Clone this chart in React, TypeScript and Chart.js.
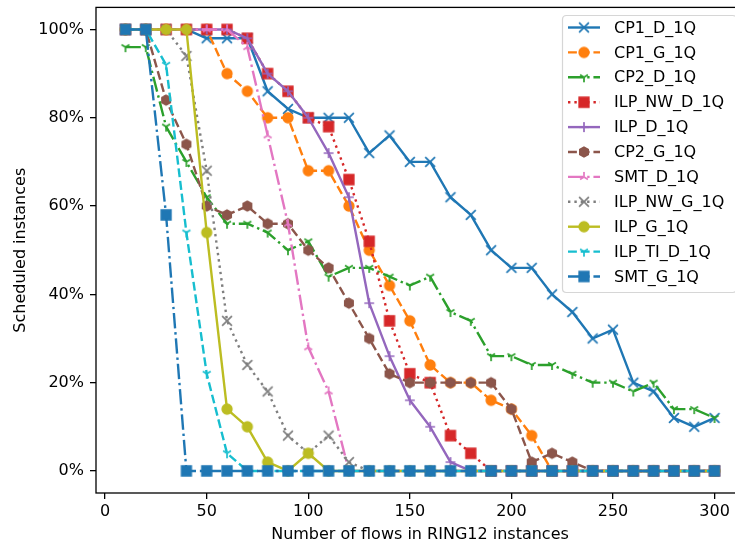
import { useEffect, useRef } from 'react';
import { Chart, registerables } from 'chart.js';
Chart.register(...registerables);

const flows = [10, 20, 30, 40, 50, 60, 70, 80, 90, 100, 110, 120, 130, 140, 150, 160, 170, 180, 190, 200, 210, 220, 230, 240, 250, 260, 270, 280, 290, 300];

const CP1_D_1Q = [100, 100, 100, 100, 98, 98, 98, 86, 82, 80, 80, 80, 72, 76, 70, 70, 62, 58, 50, 46, 46, 40, 36, 30, 32, 20, 18, 12, 10, 12];
const CP1_G_1Q = [100, 100, 100, 100, 100, 90, 86, 80, 80, 68, 68, 60, 50, 42, 34, 24, 20, 20, 16, 14, 8, 0, 0, 0, 0, 0, 0, 0, 0, 0];
const CP2_D_1Q = [96, 96, 78, 70, 62, 56, 56, 54, 50, 52, 44, 46, 46, 44, 42, 44, 36, 34, 26, 26, 24, 24, 22, 20, 20, 18, 20, 14, 14, 12];
const ILP_NW_D_1Q = [100, 100, 100, 100, 100, 100, 98, 90, 86, 80, 78, 66, 52, 34, 22, 20, 8, 4, 0, 0, 0, 0, 0, 0, 0, 0, 0, 0, 0, 0];
const ILP_D_1Q = [100, 100, 100, 100, 100, 100, 98, 90, 86, 80, 72, 62, 38, 26, 16, 10, 2, 0, 0, 0, 0, 0, 0, 0, 0, 0, 0, 0, 0, 0];
const CP2_G_1Q = [100, 100, 84, 74, 60, 58, 60, 56, 56, 50, 46, 38, 30, 22, 20, 20, 20, 20, 20, 14, 2, 4, 2, 0, 0, 0, 0, 0, 0, 0];
const SMT_D_1Q = [100, 100, 100, 100, 100, 100, 96, 76, 56, 28, 18, 0, 0, 0, 0, 0, 0, 0, 0, 0, 0, 0, 0, 0, 0, 0, 0, 0, 0, 0];
const ILP_NW_G_1Q = [100, 100, 100, 94, 68, 34, 24, 18, 8, 4, 8, 2, 0, 0, 0, 0, 0, 0, 0, 0, 0, 0, 0, 0, 0, 0, 0, 0, 0, 0];
const ILP_G_1Q = [100, 100, 100, 100, 54, 14, 10, 2, 0, 4, 0, 0, 0, 0, 0, 0, 0, 0, 0, 0, 0, 0, 0, 0, 0, 0, 0, 0, 0, 0];
const ILP_TI_D_1Q = [100, 100, 92, 54, 22, 4, 0, 0, 0, 0, 0, 0, 0, 0, 0, 0, 0, 0, 0, 0, 0, 0, 0, 0, 0, 0, 0, 0, 0, 0];
const SMT_G_1Q = [100, 100, 58, 0, 0, 0, 0, 0, 0, 0, 0, 0, 0, 0, 0, 0, 0, 0, 0, 0, 0, 0, 0, 0, 0, 0, 0, 0, 0, 0];

const xTicks = [0, 50, 100, 150, 200, 250, 300];
const yTicks = [0, 20, 40, 60, 80, 100];

const xTitle = 'Number of flows in RING12 instances';
const yTitle = 'Scheduled instances';

const FONT = 'DejaVu Sans';
const LW = 2.4;
const DASHED = [3.7 * LW, 1.6 * LW];
const DOTTED = [1 * LW, 1.65 * LW];
const DASHDOT = [6.4 * LW, 1.6 * LW, 1 * LW, 1.6 * LW];
const SOLID: number[] = [];

function makeMarker(kind: string, color: string): HTMLCanvasElement {
  const S = 16;
  const c = document.createElement('canvas');
  c.width = S;
  c.height = S;
  const ctx = c.getContext('2d')!;
  ctx.translate(S / 2, S / 2);
  const r = 4.9;
  ctx.strokeStyle = color;
  ctx.fillStyle = color;
  ctx.lineWidth = 1.7;
  ctx.lineCap = 'butt';
  ctx.lineJoin = 'miter';
  const seg = (pts: number[][]) => {
    ctx.beginPath();
    for (const p of pts) {
      ctx.moveTo(0, 0);
      ctx.lineTo(p[0], p[1]);
    }
    ctx.stroke();
  };
  if (kind === 'x') {
    ctx.beginPath();
    ctx.moveTo(-r, -r); ctx.lineTo(r, r);
    ctx.moveTo(-r, r); ctx.lineTo(r, -r);
    ctx.stroke();
  } else if (kind === '+') {
    ctx.beginPath();
    ctx.moveTo(-r, 0); ctx.lineTo(r, 0);
    ctx.moveTo(0, -r); ctx.lineTo(0, r);
    ctx.stroke();
  } else if (kind === 'o') {
    ctx.beginPath();
    ctx.arc(0, 0, r, 0, Math.PI * 2);
    ctx.fill();
    ctx.lineWidth = 1.5;
    ctx.stroke();
  } else if (kind === 's') {
    ctx.beginPath();
    ctx.rect(-r, -r, 2 * r, 2 * r);
    ctx.fill();
    ctx.lineWidth = 1.5;
    ctx.stroke();
  } else if (kind === 'h') {
    ctx.beginPath();
    for (let i = 0; i < 6; i++) {
      const a = -Math.PI / 2 + (i * Math.PI) / 3;
      const px = r * Math.cos(a);
      const py = r * Math.sin(a);
      if (i === 0) ctx.moveTo(px, py); else ctx.lineTo(px, py);
    }
    ctx.closePath();
    ctx.fill();
    ctx.lineWidth = 1.5;
    ctx.stroke();
  } else if (kind === '1') {
    seg([[0, r], [-0.8 * r, -0.5 * r], [0.8 * r, -0.5 * r]]);
  } else if (kind === '2') {
    seg([[0, -r], [-0.8 * r, 0.5 * r], [0.8 * r, 0.5 * r]]);
  }
  return c;
}

const seriesDefs = [
  { label: 'CP1_D_1Q', values: CP1_D_1Q, color: '#1f77b4', dash: SOLID, marker: 'x' },
  { label: 'CP1_G_1Q', values: CP1_G_1Q, color: '#ff7f0e', dash: DASHED, marker: 'o' },
  { label: 'CP2_D_1Q', values: CP2_D_1Q, color: '#2ca02c', dash: DASHDOT, marker: '1' },
  { label: 'ILP_NW_D_1Q', values: ILP_NW_D_1Q, color: '#d62728', dash: DOTTED, marker: 's' },
  { label: 'ILP_D_1Q', values: ILP_D_1Q, color: '#9467bd', dash: SOLID, marker: '+' },
  { label: 'CP2_G_1Q', values: CP2_G_1Q, color: '#8c564b', dash: DASHED, marker: 'h' },
  { label: 'SMT_D_1Q', values: SMT_D_1Q, color: '#e377c2', dash: DASHDOT, marker: '2' },
  { label: 'ILP_NW_G_1Q', values: ILP_NW_G_1Q, color: '#7f7f7f', dash: DOTTED, marker: 'x' },
  { label: 'ILP_G_1Q', values: ILP_G_1Q, color: '#bcbd22', dash: SOLID, marker: 'o' },
  { label: 'ILP_TI_D_1Q', values: ILP_TI_D_1Q, color: '#17becf', dash: DASHED, marker: '1' },
  { label: 'SMT_G_1Q', values: SMT_G_1Q, color: '#1f77b4', dash: DASHDOT, marker: 's' },
];

export default function App() {
  const ref = useRef<HTMLCanvasElement | null>(null);

  useEffect(() => {
    const canvas = ref.current;
    if (!canvas) return;
    const markers = seriesDefs.map((s) => makeMarker(s.marker, s.color));
    const n = seriesDefs.length;

    const datasets = seriesDefs.map((s, i) => ({
      label: s.label,
      data: flows.map((x, j) => ({ x, y: s.values[j] })),
      borderColor: s.color,
      backgroundColor: s.color,
      borderWidth: LW,
      borderDash: s.dash,
      borderCapStyle: 'butt' as const,
      borderJoinStyle: 'round' as const,
      tension: 0,
      pointStyle: markers[i] as any,
      pointRadius: 5,
      pointHoverRadius: 5,
      order: n - i,
      fill: false,
    }));

    const framePlugin = {
      id: 'frame',
      afterDatasetsDraw(chart: any) {
        const { ctx, chartArea } = chart;
        ctx.save();
        ctx.strokeStyle = '#000';
        ctx.lineWidth = 1.3;
        ctx.setLineDash([]);
        ctx.strokeRect(chartArea.left, chartArea.top, chartArea.right - chartArea.left, chartArea.bottom - chartArea.top);
        ctx.restore();
      },
    };

    const legendPlugin = {
      id: 'mplLegend',
      afterDraw(chart: any) {
        const { ctx } = chart;
        const bx = 562.5, by = 15.5, bw = 174, bh = 277, rad = 4;
        ctx.save();
        ctx.beginPath();
        ctx.moveTo(bx + rad, by);
        ctx.lineTo(bx + bw - rad, by);
        ctx.quadraticCurveTo(bx + bw, by, bx + bw, by + rad);
        ctx.lineTo(bx + bw, by + bh - rad);
        ctx.quadraticCurveTo(bx + bw, by + bh, bx + bw - rad, by + bh);
        ctx.lineTo(bx + rad, by + bh);
        ctx.quadraticCurveTo(bx, by + bh, bx, by + bh - rad);
        ctx.lineTo(bx, by + rad);
        ctx.quadraticCurveTo(bx, by, bx + rad, by);
        ctx.closePath();
        ctx.fillStyle = 'rgba(255,255,255,0.8)';
        ctx.fill();
        ctx.strokeStyle = 'rgba(204,204,204,0.8)';
        ctx.lineWidth = 1.2;
        ctx.stroke();

        const x0 = 568;
        const hl = 32;
        seriesDefs.forEach((s, i) => {
          const y = 27.5 + i * 24.9;
          ctx.beginPath();
          ctx.setLineDash(s.dash);
          ctx.lineDashOffset = 0;
          ctx.lineCap = 'butt';
          ctx.strokeStyle = s.color;
          ctx.lineWidth = LW;
          ctx.moveTo(x0, y);
          ctx.lineTo(x0 + hl, y);
          ctx.stroke();
          ctx.setLineDash([]);
          const m = markers[i];
          ctx.drawImage(m, x0 + hl / 2 - m.width / 2, y - m.height / 2);
          ctx.fillStyle = '#000';
          ctx.font = `16px "${FONT}"`;
          ctx.textBaseline = 'middle';
          ctx.textAlign = 'left';
          ctx.fillText(s.label, 614, y + 1);
        });
        ctx.restore();
      },
    };

    const tickFont = { family: FONT, size: 16 };

    const chart = new Chart(canvas, {
      type: 'line',
      data: { datasets },
      options: {
        animation: false,
        responsive: false,
        events: [],
        layout: { padding: { left: 0, right: 16, top: 6, bottom: 0 } },
        plugins: {
          legend: { display: false },
          tooltip: { enabled: false },
        },
        scales: {
          x: {
            type: 'linear',
            min: -4.5,
            max: 314.5,
            afterBuildTicks: (axis: any) => {
              axis.ticks = xTicks.map((v) => ({ value: v }));
            },
            afterFit: (axis: any) => {
              axis.height = 53;
              axis.paddingLeft = 0;
              axis.paddingRight = 0;
            },
            grid: {
              display: true,
              drawOnChartArea: false,
              drawTicks: true,
              tickLength: 6,
              color: '#000',
              lineWidth: 1.3,
            },
            border: { display: false },
            ticks: {
              font: tickFont,
              color: '#000',
              padding: 3,
              maxRotation: 0,
              autoSkip: false,
              callback: (v: any) => String(v),
            },
            title: {
              display: true,
              text: xTitle,
              font: { family: FONT, size: 16 },
              color: '#000',
              padding: { top: 0, bottom: 2 },
            },
          },
          y: {
            type: 'linear',
            min: -5,
            max: 105,
            afterBuildTicks: (axis: any) => {
              axis.ticks = yTicks.map((v) => ({ value: v }));
            },
            afterFit: (axis: any) => {
              axis.width = 96;
              axis.paddingTop = 0;
              axis.paddingBottom = 0;
            },
            grid: {
              display: true,
              drawOnChartArea: false,
              drawTicks: true,
              tickLength: 6,
              color: '#000',
              lineWidth: 1.3,
            },
            border: { display: false },
            ticks: {
              font: tickFont,
              color: '#000',
              padding: 6,
              autoSkip: false,
              callback: (v: any) => `${v}%`,
            },
            title: {
              display: true,
              text: yTitle,
              font: { family: FONT, size: 16 },
              color: '#000',
              padding: { top: 11, bottom: 0 },
            },
          },
        },
      },
      plugins: [framePlugin, legendPlugin],
    });

    return () => {
      chart.destroy();
    };
  }, []);

  return (
    <div
      style={{
        position: 'fixed',
        left: 0,
        top: 0,
        width: 735,
        height: 546,
        overflow: 'hidden',
        background: '#fff',
      }}
    >
      <canvas ref={ref} width={760} height={546} style={{ display: 'block', width: 760, height: 546 }} />
    </div>
  );
}
